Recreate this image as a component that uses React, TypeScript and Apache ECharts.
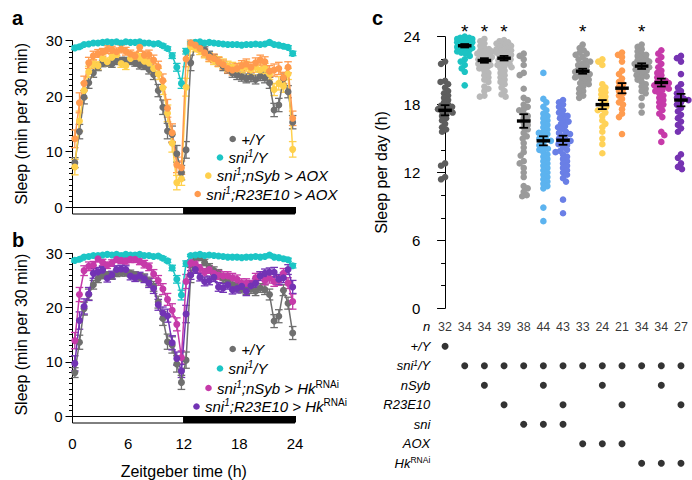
import React, { useEffect, useRef } from 'react';
import * as echarts from 'echarts';

const FONT = '"Liberation Sans", Arial, Helvetica, sans-serif';

// ---------- Panels a & b: sleep per 30 min across Zeitgeber time ----------
const zt = [0.25, 0.75, 1.25, 1.75, 2.25, 2.75, 3.25, 3.75, 4.25, 4.75, 5.25, 5.75, 6.25, 6.75, 7.25, 7.75,
  8.25, 8.75, 9.25, 9.75, 10.25, 10.75, 11.25, 11.75, 12.25, 12.75, 13.25, 13.75, 14.25, 14.75, 15.25, 15.75,
  16.25, 16.75, 17.25, 17.75, 18.25, 18.75, 19.25, 19.75, 20.25, 20.75, 21.25, 21.75, 22.25, 22.75, 23.25, 23.75];

const plusY = [8.0, 13.6, 19.8, 22.4, 24.2, 25.3, 25.9, 26.0, 25.8, 26.3, 26.4, 26.4, 26.3, 26.0, 25.6, 25.5,
  24.8, 23.9, 21.0, 18.0, 13.7, 13.1, 9.6, 6.2, 10.3, 26.0, 29.3, 29.2, 28.3, 27.4, 26.8, 26.2,
  25.4, 24.9, 24.2, 23.8, 23.5, 23.2, 23.4, 23.0, 23.6, 23.3, 22.4, 17.5, 18.4, 23.2, 20.8, 15.3];
const plusYSem = [0.9, 1.3, 1.2, 1.0, 0.8, 0.7, 0.6, 0.6, 0.6, 0.6, 0.6, 0.6, 0.6, 0.6, 0.7, 0.7,
  0.8, 0.9, 1.1, 1.3, 1.4, 1.5, 1.5, 1.3, 1.5, 1.4, 0.5, 0.5, 0.6, 0.7, 0.7, 0.8,
  0.8, 0.8, 0.8, 0.8, 0.8, 0.8, 0.8, 0.8, 0.8, 0.9, 1.0, 1.2, 1.2, 1.0, 1.1, 1.2];

const sni1Y = [28.7, 28.9, 29.3, 29.4, 29.6, 29.6, 29.7, 29.8, 29.7, 29.8, 29.6, 29.8, 29.7, 29.7, 29.8, 29.6,
  29.6, 29.4, 29.5, 29.1, 28.6, 27.3, 25.2, 22.3, 28.1, 29.6, 29.7, 29.8, 29.6, 29.7, 29.6, 29.5,
  29.4, 29.3, 29.3, 29.3, 29.2, 29.3, 29.3, 29.4, 29.3, 29.4, 29.7, 29.3, 29.2, 29.0, 28.8, 27.7];
const sni1YSem = [0.3, 0.3, 0.2, 0.2, 0.2, 0.2, 0.2, 0.2, 0.2, 0.2, 0.2, 0.2, 0.2, 0.2, 0.2, 0.2,
  0.2, 0.2, 0.2, 0.3, 0.3, 0.5, 0.7, 0.9, 0.5, 0.2, 0.2, 0.2, 0.2, 0.2, 0.2, 0.2,
  0.2, 0.2, 0.2, 0.2, 0.2, 0.2, 0.2, 0.2, 0.2, 0.2, 0.2, 0.2, 0.2, 0.3, 0.3, 0.4];

const nSybAOX = [7.2, 15.5, 21.0, 24.4, 25.8, 25.5, 26.8, 26.2, 27.0, 27.5, 25.9, 25.5, 26.8, 27.2, 27.0, 26.3,
  26.0, 25.0, 24.0, 21.5, 16.9, 11.5, 4.4, 5.1, 21.6, 29.0, 28.6, 28.2, 27.6, 27.0, 26.5, 26.2,
  25.8, 25.4, 25.2, 24.9, 25.1, 25.4, 24.8, 25.2, 24.7, 25.0, 24.0, 21.2, 22.3, 21.8, 24.0, 10.4];
const nSybAOXSem = [1.4, 1.8, 1.4, 1.0, 0.8, 0.7, 0.7, 0.7, 0.7, 0.7, 0.7, 0.7, 0.7, 0.7, 0.7, 0.7,
  0.8, 0.9, 1.0, 1.2, 1.5, 1.6, 1.3, 1.2, 1.6, 0.6, 0.6, 0.7, 0.7, 0.8, 0.8, 0.9,
  0.9, 0.9, 0.9, 0.9, 0.9, 0.9, 0.9, 0.9, 0.9, 0.9, 1.0, 1.1, 1.2, 1.1, 1.0, 1.4];

const r23AOX = [12.3, 18.8, 22.3, 26.0, 27.3, 27.7, 27.9, 28.4, 28.3, 28.0, 28.5, 28.1, 27.6, 27.2, 28.8, 27.4,
  27.5, 26.5, 25.3, 22.8, 17.8, 13.4, 7.6, 7.1, 26.7, 29.6, 29.2, 28.6, 27.8, 27.0, 26.8, 26.2,
  25.7, 25.0, 24.7, 25.0, 25.5, 25.8, 25.2, 26.0, 26.5, 26.2, 24.5, 24.7, 25.0, 23.3, 25.2, 16.0];
const r23AOXSem = [1.6, 1.8, 1.3, 1.0, 0.8, 0.7, 0.7, 0.7, 0.7, 0.7, 0.7, 0.7, 0.7, 0.7, 0.7, 0.7,
  0.8, 0.9, 1.0, 1.2, 1.6, 1.6, 1.4, 1.2, 1.4, 0.5, 0.6, 0.6, 0.7, 0.7, 0.8, 0.8,
  0.8, 0.8, 0.9, 0.9, 0.9, 0.9, 0.9, 0.9, 0.9, 0.9, 1.0, 1.1, 1.1, 1.0, 1.0, 1.3];

const nSybHk = [13.9, 22.4, 26.8, 27.6, 27.8, 29.0, 28.3, 27.8, 28.2, 28.9, 28.7, 28.6, 28.9, 28.9, 28.5, 28.0,
  27.5, 26.2, 25.0, 23.4, 21.5, 19.5, 16.9, 10.8, 24.8, 28.2, 28.0, 27.2, 26.5, 27.0, 26.3, 26.0,
  25.8, 25.8, 25.5, 25.2, 24.5, 24.5, 24.2, 25.5, 25.8, 25.0, 25.4, 24.8, 25.0, 26.3, 24.5, 21.1];
const nSybHkSem = [1.5, 1.3, 0.9, 0.8, 0.7, 0.6, 0.6, 0.6, 0.6, 0.6, 0.6, 0.6, 0.6, 0.6, 0.6, 0.7,
  0.7, 0.8, 0.9, 1.0, 1.1, 1.2, 1.2, 1.2, 1.3, 0.6, 0.6, 0.7, 0.7, 0.7, 0.7, 0.8,
  0.8, 0.8, 0.8, 0.8, 0.8, 0.8, 0.8, 0.8, 0.8, 0.8, 0.9, 0.9, 0.9, 0.9, 1.0, 1.4];

const r23Hk = [9.7, 17.6, 20.2, 22.5, 26.3, 26.6, 26.9, 25.4, 26.0, 27.0, 27.1, 27.0, 25.8, 25.5, 25.8, 25.3,
  24.5, 23.5, 20.5, 19.0, 18.5, 13.5, 10.6, 8.3, 18.8, 26.0, 27.0, 25.6, 24.8, 25.0, 25.6, 23.8,
  23.6, 24.2, 23.3, 23.5, 23.9, 23.0, 24.0, 24.5, 25.8, 26.3, 26.5, 26.5, 25.2, 25.5, 27.0, 23.8];
const r23HkSem = [1.4, 1.6, 1.4, 1.2, 0.9, 0.8, 0.7, 0.7, 0.7, 0.7, 0.7, 0.7, 0.7, 0.7, 0.7, 0.7,
  0.8, 0.9, 1.0, 1.1, 1.2, 1.3, 1.2, 1.2, 1.6, 0.8, 0.7, 0.7, 0.8, 0.8, 0.8, 0.8,
  0.8, 0.8, 0.8, 0.8, 0.8, 0.8, 0.8, 0.8, 0.8, 0.8, 0.8, 0.9, 0.9, 0.9, 0.9, 1.2];

const ldPhases = [[0, 12, 0], [12, 24, 1]]; // light (0) / dark (1)

const COL_GRAY = '#6f6f6f';
const COL_CYAN = '#1cc5c5';
const COL_YELLOW = '#ffd04c';
const COL_ORANGE = '#ff9a4e';
const COL_MAGENTA = '#c63aa9';
const COL_PURPLE = '#7233b4';

// ---------- Panel c: total sleep per day, individual flies ----------
const g01 = [21.8, 21.6, 20.1, 20.0, 19.8, 19.5, 19.2, 19.0, 18.8, 18.6, 18.4, 18.2, 18.0, 17.9, 17.8, 17.7,
  17.6, 17.5, 17.4, 17.3, 17.2, 17.0, 16.8, 16.6, 16.3, 16.0, 15.8, 15.6, 12.8, 12.6, 11.6, 11.4];
const g02 = [24.0, 23.9, 23.9, 23.8, 23.8, 23.7, 23.7, 23.6, 23.6, 23.5, 23.5, 23.5, 23.4, 23.4, 23.3, 23.3,
  23.2, 23.2, 23.1, 23.1, 23.0, 23.0, 22.9, 22.8, 22.7, 22.6, 22.5, 22.3, 22.0, 21.8, 21.5, 21.2, 20.9, 19.7];
const g03 = [23.8, 23.6, 23.4, 23.2, 23.0, 22.9, 22.8, 22.7, 22.6, 22.5, 22.4, 22.3, 22.2, 22.1, 22.0, 21.9,
  21.8, 21.7, 21.6, 21.5, 21.4, 21.3, 21.2, 21.0, 20.8, 20.6, 20.4, 20.2, 20.0, 19.6, 19.4, 19.2, 18.8, 18.7];
const g04 = [23.7, 23.6, 23.5, 23.4, 23.3, 23.2, 23.1, 23.0, 22.9, 22.8, 22.8, 22.7, 22.6, 22.5, 22.4, 22.3,
  22.2, 22.1, 22.0, 21.9, 21.8, 21.7, 21.6, 21.5, 21.4, 21.2, 21.0, 20.8, 20.6, 20.4, 20.2, 20.0, 19.8, 19.5,
  19.2, 18.9, 18.7, 21.3, 22.6];
const g05 = [22.5, 22.3, 22.0, 21.5, 20.8, 20.6, 19.4, 18.6, 18.4, 18.0, 17.8, 17.5, 17.2, 17.0, 16.8, 16.6,
  16.4, 16.2, 16.0, 15.8, 15.5, 15.2, 15.0, 14.6, 14.2, 13.8, 13.5, 13.0, 12.8, 12.4, 12.0, 11.6, 10.8, 10.6,
  10.3, 10.0, 9.9, 17.6];
const g06 = [20.8, 18.5, 18.2, 17.8, 17.5, 17.2, 17.0, 16.8, 16.6, 16.4, 16.2, 16.0, 15.8, 15.6, 15.4, 15.2,
  15.0, 14.9, 14.8, 14.6, 14.4, 14.2, 14.0, 13.8, 13.6, 13.4, 13.2, 13.0, 12.8, 12.6, 12.4, 12.2, 12.0, 11.8,
  11.6, 11.4, 11.2, 11.0, 10.8, 10.6, 8.9, 7.7, 15.5, 14.1];
const g07 = [18.4, 18.2, 18.0, 17.8, 17.5, 17.3, 17.1, 17.0, 16.8, 16.6, 16.5, 16.3, 16.1, 16.0, 15.8, 15.6,
  15.4, 15.2, 15.0, 14.9, 14.8, 14.6, 14.4, 14.2, 14.0, 13.8, 13.6, 13.4, 13.2, 13.0, 12.8, 12.6, 12.4, 12.2,
  12.0, 11.8, 11.5, 11.2, 9.6, 8.4, 15.5, 14.5, 13.9];
const g08 = [23.3, 23.0, 22.8, 22.6, 22.4, 22.2, 22.0, 21.9, 21.8, 21.6, 21.5, 21.4, 21.2, 21.0, 20.9, 20.8,
  20.7, 20.6, 20.5, 20.4, 20.2, 20.0, 19.8, 19.6, 19.4, 19.2, 19.0, 18.8, 18.6, 21.1, 20.3, 19.9, 22.5];
const g09 = [22.0, 21.8, 21.5, 19.8, 19.5, 19.3, 19.1, 18.9, 18.7, 18.5, 18.3, 18.0, 17.8, 17.6, 17.3, 17.0,
  16.6, 16.3, 16.0, 15.6, 15.0, 14.5, 13.7, 17.5];
const g10 = [22.6, 22.4, 22.2, 21.8, 21.0, 20.7, 20.3, 20.0, 19.8, 19.6, 19.4, 19.2, 19.0, 18.8, 18.5, 18.2,
  18.0, 17.6, 17.2, 16.9, 15.4];
const g11 = [23.3, 23.1, 22.9, 22.7, 22.5, 22.3, 22.1, 22.0, 21.9, 21.8, 21.7, 21.6, 21.5, 21.4, 21.3, 21.2,
  21.0, 20.9, 20.8, 20.6, 20.4, 20.2, 20.0, 19.8, 19.6, 19.4, 19.2, 19.0, 18.6, 17.9, 17.3, 21.1, 20.5, 22.4];
const g12 = [22.8, 22.5, 22.2, 21.9, 21.6, 21.3, 21.0, 20.8, 20.6, 20.4, 20.2, 20.0, 19.9, 19.8, 19.7, 19.6,
  19.5, 19.4, 19.2, 19.0, 18.8, 18.6, 18.4, 18.2, 18.0, 17.8, 17.5, 17.2, 16.9, 15.6, 15.3, 14.7, 20.1, 19.3];
const g13 = [22.3, 22.1, 21.8, 20.7, 19.8, 19.5, 19.2, 19.0, 18.8, 18.6, 18.4, 18.2, 18.0, 17.7, 17.4, 17.1,
  16.8, 16.5, 16.2, 15.9, 15.6, 13.6, 13.3, 12.8, 12.5, 12.3, 18.5];

const groups = [g01, g02, g03, g04, g05, g06, g07, g08, g09, g10, g11, g12, g13];
const groupMeans = [17.5, 23.2, 21.9, 22.1, 16.55, 14.8, 14.85, 20.95, 18.0, 19.45, 21.4, 19.95, 18.4];
const groupSems = [0.45, 0.15, 0.2, 0.2, 0.6, 0.4, 0.4, 0.22, 0.4, 0.45, 0.25, 0.35, 0.55];
const groupColors = ['#5e5e5e', '#1cc3c3', '#b8b8b8', '#b8b8b8', '#9a9a9a', '#5cb3ef', '#6a7fe6',
  '#9a9a9a', '#ffd258', '#ff9c50', '#9a9a9a', '#c63aa9', '#7633b2'];
const significant = [false, true, true, true, false, false, false, true, false, false, true, false, false];
const nCounts = [32, 34, 34, 39, 38, 44, 43, 33, 24, 21, 34, 34, 27];

// genotype matrix rows: which columns carry each element
const matrixRows = ['n', '+/Y', 'sni1/Y', 'nSyb', 'R23E10', 'sni', 'AOX', 'HkRNAi'];
const rowPlusY = [0];
const rowSni1Y = [1, 2, 3, 4, 5, 6, 7, 8, 9, 10, 11, 12];
const rowNSyb = [2, 5, 8, 11];
const rowR23E10 = [3, 6, 9, 12];
const rowSni = [4, 5, 6];
const rowAOX = [7, 8, 9];
const rowHk = [10, 11, 12];

// ---------- layout ----------
const GC = { left: 432.3, top: 36.7, width: 258.5, height: 271.6 };
const C_MIN = -0.65;
const C_MAX = 12.5;

function swarmOffsets(vals: number[]): number[] {
  const yPx = GC.height / 24;
  const xPx = GC.width / (C_MAX - C_MIN);
  const order = vals.map((_, i) => i).sort((a, b) => vals[b] - vals[a]);
  const placed: { x: number; y: number }[] = [];
  const off = new Array(vals.length).fill(0);
  const D = 4.4;
  let flip = 1;
  for (const i of order) {
    const y = vals[i] * yPx;
    let best = 0;
    let bestScore = -1;
    let done = false;
    for (let k = 0; k <= 15 && !done; k++) {
      const cands = k === 0 ? [0] : [flip * k * 0.5, -flip * k * 0.5];
      for (const c of cands) {
        let md = Infinity;
        for (const p of placed) {
          const d = Math.hypot(p.x - c, p.y - y);
          if (d < md) md = d;
        }
        if (md >= D) { best = c; done = true; break; }
        if (md > bestScore) { bestScore = md; best = c; }
      }
    }
    flip = -flip;
    placed.push({ x: best, y });
    off[i] = best / xPx;
  }
  return off;
}

function errSeries(g: number, vals: number[], sems: number[], color: string) {
  return {
    type: 'custom', xAxisIndex: g, yAxisIndex: g, z: 2, silent: true,
    data: zt.map((t, i) => [t, vals[i], sems[i]]),
    renderItem: (_p: any, api: any) => {
      const x = api.value(0), v = api.value(1), s = api.value(2);
      const t = api.coord([x, v + s]);
      const b = api.coord([x, v - s]);
      const hw = 3.8;
      const st = { stroke: color, lineWidth: 1.3 };
      return {
        type: 'group', children: [
          { type: 'line', shape: { x1: t[0], y1: t[1], x2: b[0], y2: b[1] }, style: st },
          { type: 'line', shape: { x1: t[0] - hw, y1: t[1], x2: t[0] + hw, y2: t[1] }, style: st },
          { type: 'line', shape: { x1: b[0] - hw, y1: b[1], x2: b[0] + hw, y2: b[1] }, style: st },
        ],
      };
    },
  };
}

function lineSeries(g: number, vals: number[], color: string) {
  return {
    type: 'line', xAxisIndex: g, yAxisIndex: g, z: 3, silent: true,
    data: zt.map((t, i) => [t, vals[i]]),
    symbol: 'circle', symbolSize: 7, showSymbol: true,
    lineStyle: { color, width: 1.5 }, itemStyle: { color },
  };
}

function ldSeries(g: number) {
  return {
    type: 'custom', xAxisIndex: g, yAxisIndex: g, z: 4, silent: true,
    data: ldPhases,
    renderItem: (_p: any, api: any) => {
      const a = api.coord([api.value(0), 0]);
      const b = api.coord([api.value(1), 0]);
      const dark = api.value(2) === 1;
      return {
        type: 'rect', shape: { x: a[0], y: a[1] + 0.5, width: b[0] - a[0], height: 6.5 },
        style: { fill: dark ? '#000' : '#fff', stroke: '#000', lineWidth: 1 },
      };
    },
  };
}

function ztXAxis(g: number, labels: boolean) {
  return {
    type: 'value', gridIndex: g, min: 0, max: 24, interval: 6, offset: 7,
    axisLine: { show: true, lineStyle: { color: '#000', width: 1 } },
    axisTick: { show: true, length: 6, lineStyle: { color: '#000' } },
    minorTick: { show: true, splitNumber: 6, length: 3, lineStyle: { color: '#000' } },
    splitLine: { show: false }, minorSplitLine: { show: false },
    axisLabel: { show: labels, fontSize: 15, color: '#000', margin: 13, fontFamily: FONT },
    name: labels ? 'Zeitgeber time (h)' : '', nameLocation: 'middle', nameGap: 40,
    nameTextStyle: { fontSize: 16, color: '#000', fontFamily: FONT },
  };
}

function sleepYAxis(g: number) {
  return {
    type: 'value', gridIndex: g, min: 0, max: 30, interval: 10,
    axisLine: { show: true, lineStyle: { color: '#000', width: 1 } },
    axisTick: { show: true, length: 7, lineStyle: { color: '#000' } },
    minorTick: { show: true, splitNumber: 10, length: 3.5, lineStyle: { color: '#000' } },
    splitLine: { show: false }, minorSplitLine: { show: false },
    axisLabel: { fontSize: 15, color: '#000', margin: 10, fontFamily: FONT },
    name: 'Sleep (min per 30 min)', nameLocation: 'middle', nameGap: 43,
    nameTextStyle: { fontSize: 16, color: '#000', fontFamily: FONT },
  };
}

const RICH: any = {
  i: { fontSize: 15, fontStyle: 'italic', fontFamily: FONT, lineHeight: 18, fill: '#000' },
  s: { fontSize: 10, fontStyle: 'italic', fontFamily: FONT, lineHeight: 10, verticalAlign: 'top', fill: '#000' },
  r: { fontSize: 10, fontFamily: FONT, lineHeight: 10, verticalAlign: 'top', fill: '#000' },
};

function legendItem(cx: number, cy: number, color: string, text: string) {
  return [
    { type: 'circle', shape: { cx, cy, r: 3.3 }, style: { fill: color }, z: 10 },
    {
      type: 'text', x: cx + 8.5, y: cy, z: 10,
      style: { text, rich: RICH, fontSize: 15, fontFamily: FONT, fontStyle: 'italic', align: 'left', verticalAlign: 'middle', fill: '#000' },
    },
  ];
}

function panelLetter(ch: string, x: number, y: number) {
  return {
    type: 'text', x, y, z: 10,
    style: { text: ch, fontSize: 20, fontWeight: 'bold', fontFamily: FONT, fill: '#000', align: 'left', verticalAlign: 'middle' },
  };
}

const MROW_RICH: any = {
  i: { fontSize: 13, fontStyle: 'italic', fontFamily: FONT, color: '#000', lineHeight: 15 },
  s: { fontSize: 8.5, fontStyle: 'italic', fontFamily: FONT, color: '#000', lineHeight: 8, verticalAlign: 'top' },
  r: { fontSize: 8.5, fontFamily: FONT, color: '#000', lineHeight: 8, verticalAlign: 'top' },
};
const MROW_TEXT: Record<string, string> = {
  'n': '{i|n}', '+/Y': '{i|+/Y}', 'sni1/Y': '{i|sni}{s|1}{i|/Y}', 'nSyb': '{i|nSyb}', 'R23E10': '{i|R23E10}',
  'sni': '{i|sni}', 'AOX': '{i|AOX}', 'HkRNAi': '{i|Hk}{r|RNAi}',
};

function buildOption() {
  const series: any[] = [];
  // panel a
  series.push(ldSeries(0));
  ([[plusY, plusYSem, COL_GRAY], [sni1Y, sni1YSem, COL_CYAN], [nSybAOX, nSybAOXSem, COL_YELLOW], [r23AOX, r23AOXSem, COL_ORANGE]] as any[])
    .forEach(([v, s, c]) => { series.push(errSeries(0, v, s, c)); series.push(lineSeries(0, v, c)); });
  // panel b
  series.push(ldSeries(1));
  ([[plusY, plusYSem, COL_GRAY], [sni1Y, sni1YSem, COL_CYAN], [nSybHk, nSybHkSem, COL_MAGENTA], [r23Hk, r23HkSem, COL_PURPLE]] as any[])
    .forEach(([v, s, c]) => { series.push(errSeries(1, v, s, c)); series.push(lineSeries(1, v, c)); });

  // panel c swarm
  groups.forEach((vals, gi) => {
    const off = swarmOffsets(vals);
    series.push({
      type: 'scatter', xAxisIndex: 2, yAxisIndex: 2, z: 3, silent: true,
      symbol: 'circle', symbolSize: 6.6,
      itemStyle: { color: groupColors[gi], opacity: 1 },
      data: vals.map((v, i) => [gi + off[i], v]),
    });
  });
  series.push({
    type: 'custom', xAxisIndex: 2, yAxisIndex: 2, z: 5, silent: true,
    data: groupMeans.map((m, i) => [i, m, groupSems[i]]),
    renderItem: (_p: any, api: any) => {
      const x = api.value(0), m = api.value(1), s = api.value(2);
      const c = api.coord([x, m]);
      const t = api.coord([x, m + s]);
      const b = api.coord([x, m - s]);
      const st = { stroke: '#000', lineWidth: 1.8 };
      return {
        type: 'group', children: [
          { type: 'line', shape: { x1: t[0], y1: t[1], x2: b[0], y2: b[1] }, style: st },
          { type: 'line', shape: { x1: t[0] - 4.4, y1: t[1], x2: t[0] + 4.4, y2: t[1] }, style: st },
          { type: 'line', shape: { x1: b[0] - 4.4, y1: b[1], x2: b[0] + 4.4, y2: b[1] }, style: st },
          { type: 'line', shape: { x1: c[0] - 6.8, y1: c[1], x2: c[0] + 6.8, y2: c[1] }, style: { stroke: '#000', lineWidth: 3.4 } },
        ],
      };
    },
  });
  series.push({
    type: 'custom', xAxisIndex: 2, yAxisIndex: 2, z: 5, silent: true,
    data: significant.map((f, i) => [i, f ? 1 : 0]),
    renderItem: (_p: any, api: any) => {
      if (api.value(1) !== 1) return null;
      const p = api.coord([api.value(0), 24]);
      return {
        type: 'text', x: p[0], y: p[1] - 5,
        style: { text: '*', fontSize: 19, fontFamily: FONT, fill: '#000', align: 'center', verticalAlign: 'middle' },
      };
    },
  });

  // matrix
  const dots: any[] = [];
  const rowsCols: [string, number[]][] = [['+/Y', rowPlusY], ['sni1/Y', rowSni1Y], ['nSyb', rowNSyb], ['R23E10', rowR23E10],
    ['sni', rowSni], ['AOX', rowAOX], ['HkRNAi', rowHk]];
  rowsCols.forEach(([r, cols]) => cols.forEach((c) => dots.push([c, r])));
  series.push({
    type: 'scatter', xAxisIndex: 3, yAxisIndex: 3, silent: true, symbol: 'circle', symbolSize: 7,
    itemStyle: { color: '#000' }, data: dots,
  });
  series.push({
    type: 'scatter', xAxisIndex: 3, yAxisIndex: 3, silent: true, symbol: 'circle', symbolSize: 0,
    data: nCounts.map((n, i) => [i, 'n', n]),
    label: { show: true, position: 'inside', formatter: (p: any) => String(p.value[2]), fontSize: 12.5, color: '#000', fontFamily: FONT },
  });

  const colAxis = (g: number) => ({ type: 'value', gridIndex: g, min: C_MIN, max: C_MAX, show: false });

  return {
    animation: false,
    backgroundColor: '#fff',
    textStyle: { fontFamily: FONT },
    grid: [
      { left: 72.5, top: 40.7, width: 222.5, height: 166.3 },
      { left: 72.5, top: 253.3, width: 222.5, height: 165.7 },
      { left: GC.left, top: GC.top, width: GC.width, height: GC.height },
      { left: GC.left, top: 317, width: GC.width, height: 156 },
    ],
    xAxis: [ztXAxis(0, false), ztXAxis(1, true), colAxis(2), colAxis(3)],
    yAxis: [
      sleepYAxis(0),
      sleepYAxis(1),
      {
        type: 'value', gridIndex: 2, min: 0, max: 24, interval: 6,
        axisLine: { show: true, lineStyle: { color: '#000', width: 1 } },
        axisTick: { show: true, length: 8, lineStyle: { color: '#000' } },
        minorTick: { show: true, splitNumber: 3, length: 4, lineStyle: { color: '#000' } },
        splitLine: { show: false }, minorSplitLine: { show: false },
        axisLabel: { fontSize: 15, color: '#000', margin: 12, fontFamily: FONT },
        name: 'Sleep per day (h)', nameLocation: 'middle', nameGap: 43,
        nameTextStyle: { fontSize: 16, color: '#000', fontFamily: FONT },
      },
      {
        type: 'category', gridIndex: 3, inverse: true, data: matrixRows,
        axisLine: { show: false }, axisTick: { show: false }, splitLine: { show: false },
        axisLabel: { margin: 2, formatter: (v: string) => MROW_TEXT[v], rich: MROW_RICH, fontSize: 13, color: '#000' },
      },
    ],
    series,
    graphic: [
      panelLetter('a', 12, 18),
      panelLetter('b', 12, 239.5),
      panelLetter('c', 372, 18),
      ...legendItem(232.7, 139, COL_GRAY, '{i|+/Y}'),
      ...legendItem(220, 157.5, COL_CYAN, '{i|sni}{s|1}{i|/Y}'),
      ...legendItem(208.3, 175.7, COL_YELLOW, '{i|sni}{s|1}{i|;nSyb > AOX}'),
      ...legendItem(197.7, 194, COL_ORANGE, '{i|sni}{s|1}{i|;R23E10 > AOX}'),
      ...legendItem(232.7, 349, COL_GRAY, '{i|+/Y}'),
      ...legendItem(220, 368.5, COL_CYAN, '{i|sni}{s|1}{i|/Y}'),
      ...legendItem(208.5, 388, COL_MAGENTA, '{i|sni}{s|1}{i|;nSyb > Hk}{r|RNAi}'),
      ...legendItem(196.5, 406.5, COL_PURPLE, '{i|sni}{s|1}{i|;R23E10 > Hk}{r|RNAi}'),
    ],
  };
}

export default function App() {
  const ref = useRef<HTMLDivElement>(null);
  useEffect(() => {
    if (!ref.current) return;
    const chart = echarts.init(ref.current, null, { renderer: 'svg' });
    chart.setOption(buildOption() as any);
    return () => chart.dispose();
  }, []);
  return <div ref={ref} style={{ position: 'fixed', left: 0, top: 0, width: 692, height: 480, background: '#fff' }} />;
}
